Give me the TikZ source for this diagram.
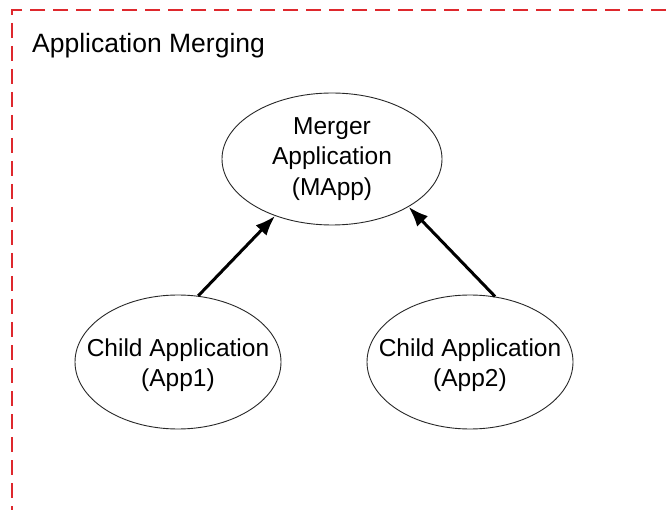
\documentclass[tikz,border=0pt]{standalone}
\usepackage{fontspec}
\setmainfont{Liberation Sans}
\usetikzlibrary{shapes.geometric,arrows.meta}
\definecolor{borderred}{RGB}{222,40,45}
\definecolor{inkgray}{RGB}{40,40,40}
\tikzset{
  appfont/.style={font=\fontsize{24.5}{30.5}\selectfont, text=black, align=center},
  appnode/.style={ellipse, draw=inkgray, line width=0.9pt, inner sep=0pt},
  linkarrow/.style={line width=3pt, draw=black, -{Latex[length=20pt,width=15pt]}},
  frameline/.style={borderred, line width=1.8pt, dash pattern=on 15pt off 8pt}
}
\begin{document}
\begin{tikzpicture}[x=1pt,y=-1pt]
\useasboundingbox (0,0) rectangle (666,510);
\fill[white] (0,0) rectangle (666,510);
\draw[frameline] (666,10) -- (12,10) -- (12,510);
\node[anchor=base west, inner sep=0pt, font=\fontsize{26.5}{31}\selectfont] (title) at (32,53) {Application Merging};
\node[appnode, minimum width=220pt, minimum height=132pt,
  label={[appfont]center:Merger\\Application\\(MApp)}] (m) at (332,159) {};
\node[appnode, minimum width=206pt, minimum height=134pt,
  label={[appfont, yshift=-3pt]center:Child Application\\(App1)}] (c1) at (178,362) {};
\node[appnode, minimum width=206pt, minimum height=134pt,
  label={[appfont, yshift=-3pt]center:Child Application\\(App2)}] (c2) at (470,362) {};
\draw[linkarrow] (c1.73) -- (m.225);
\draw[linkarrow] (c2.69) -- (m.328);
\end{tikzpicture}
\end{document}
